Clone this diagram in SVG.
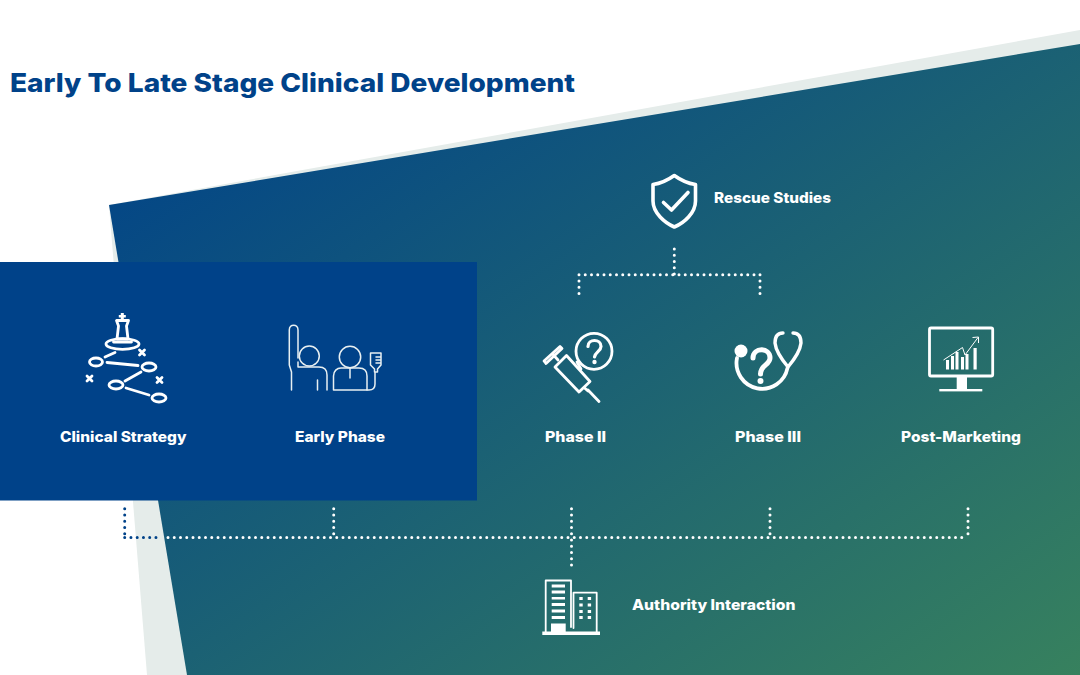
<svg xmlns="http://www.w3.org/2000/svg" width="1080" height="675" viewBox="0 0 1080 675">
<style>
.lbl{font-family:"Inter","Liberation Sans",sans-serif;font-weight:800;font-size:14.5px;fill:#fff}
.ttl{font-family:"Inter","Liberation Sans",sans-serif;font-weight:800;font-size:26px;fill:#004289}
.ic{fill:none;stroke:#fff;stroke-width:2.8;stroke-linecap:round;stroke-linejoin:round}
.thin{fill:none;stroke:#e8f0f2;stroke-width:1.5;stroke-linecap:round;stroke-linejoin:round}
.dot{fill:none;stroke:#fff;stroke-width:3;stroke-linecap:round;stroke-dasharray:0 6.25}
.dotb{stroke:#004289}
.w{fill:#fff;stroke:none}
</style>
<defs>
<linearGradient id="g" gradientUnits="userSpaceOnUse" x1="82" y1="119" x2="664" y2="962">
<stop offset="0" stop-color="#004289"/>
<stop offset="1" stop-color="#37815e"/>
</linearGradient>
</defs>
<polygon points="109,205 1080,30 1080,675 147,675" fill="#e5ecea"/>
<polygon points="109,205 1080,44 1080,675 187,675" fill="url(#g)"/>
<rect x="0" y="262" width="477" height="238.500" fill="#004289"/>
<text class="ttl" x="10" y="92" textLength="565" lengthAdjust="spacingAndGlyphs">Early To Late Stage Clinical Development</text>

<g id="connectors">
<path class="dot" d="M674.300 249V274.700M579 274.700H760M579 274.700V295M760 274.700V295"/>
<path class="dot dotb" d="M124.700 508.700V537.500M124.700 537.500H162"/>
<path class="dot" d="M168 537.500H968M333.700 508.700V537.500M571.500 508.700V565M770 508.700V537.500M968 508.700V537.500"/>
</g>

<g id="rescue-studies">
<path class="ic" style="stroke-width:3.600" d="M674.300 175.500C668 180 660 183.500 653 184.500V201C653 213 665 223 674.300 227C684 223 695.500 213 695.500 201V184.500C688.500 183.500 680.500 180 674.300 175.500Z"/>
<path class="ic" style="stroke-width:3.600" d="M663.500 202.500L671.500 210L688 192.500"/>
<text class="lbl" x="714" y="203" textLength="117" lengthAdjust="spacingAndGlyphs">Rescue Studies</text>
</g>

<g id="clinical-strategy">
<path class="w" d="M120.800 313h3v2h2v2.600h-2v2.400h-3v-2.400h-2v-2.600h2z"/>
<path class="ic" d="M116.500 320.500h12l-2 5.500 1.500 13h-11l1.500-13z"/>
<path class="ic" d="M113.500 342h18"/>
<ellipse class="ic" cx="122.500" cy="344" rx="16.500" ry="5.300"/>
<ellipse class="ic" cx="96" cy="362" rx="6.500" ry="4"/>
<ellipse class="ic" cx="149" cy="367" rx="7" ry="4"/>
<ellipse class="ic" cx="116" cy="385" rx="7" ry="4"/>
<ellipse class="ic" cx="159" cy="398" rx="7" ry="4"/>
<path class="ic" d="M105 357L115 352.500M107 362.500L138 365.500M141 372L125 381M126 388L149 395"/>
<path class="ic" d="M139.500 350L144.500 355M144.500 350L139.500 355M87 376L92 381M92 376L87 381M157 377.500L162 382.500M162 377.500L157 382.500"/>
<text class="lbl" x="60" y="442" textLength="126.500" lengthAdjust="spacingAndGlyphs">Clinical Strategy</text>
</g>

<g id="early-phase">
<path class="thin" d="M291.500 390V372L289.300 365V330C289.300 323.500 298 323.500 298 330V358M298 362V367H319C324 367 327 370 327 375V390M317.500 380V390"/>
<circle class="thin" cx="309.300" cy="356" r="10"/>
<circle class="thin" cx="350" cy="357" r="10.700"/>
<path class="thin" d="M333.500 390V376C333.500 371 337 368 341 368H359C364 368 367 371 367 376V390ZM350 368V378"/>
<path class="thin" d="M370.500 353H381V365L377.500 369V372H374.500V369L370.500 365ZM375 372V384Q375 390 369 390H367M376 357H381M376 360H381M376 363H381"/>
<text class="lbl" x="295" y="442" textLength="90" lengthAdjust="spacingAndGlyphs">Early Phase</text>
</g>

<g id="phase-ii">
<circle class="ic" cx="594" cy="351.300" r="18"/>
<path class="ic" d="M577 362L581 369"/>
<path class="ic" style="stroke-width:3.200" d="M588 346.500C588 338.500 601 338.500 601 346.500C601 351 595 352 594.500 357"/>
<circle class="w" cx="594.500" cy="362" r="2.200"/>
<path class="ic" d="M544 361L560 346.500L562 348.500L546 363.500ZM553 354.500L558 360"/>
<path class="ic" d="M555 367L566.500 355.500L590 381.500L579 392ZM584 387.500L588 391M588 390L599 401.500"/>
<text class="lbl" x="545" y="442" textLength="61" lengthAdjust="spacingAndGlyphs">Phase II</text>
</g>

<g id="phase-iii">
<circle class="w" cx="741" cy="351" r="6.500"/>
<path class="ic" style="stroke-width:3.800" d="M737 358A24.500 24.500 0 1 0 787.500 368"/>
<path class="ic" style="stroke-width:3.400" d="M783 333C777 333 775 337 775 343C776 352 783 361 788 367C793 361 800 352 801 343C801 337 799 333 793 333"/>
<path class="ic" style="stroke-width:5" d="M753 358C753 347 770 347 770 358C770 365 760.500 365 760.500 374"/>
<circle class="w" cx="760.500" cy="381" r="3"/>
<text class="lbl" x="735" y="442" textLength="66" lengthAdjust="spacingAndGlyphs">Phase III</text>
</g>

<g id="post-marketing">
<rect class="ic" x="929.500" y="328" width="63.200" height="48" rx="1.500"/>
<rect class="w" x="956.700" y="376" width="10.300" height="13"/>
<rect class="w" x="939.300" y="389" width="43" height="2.400"/>
<path class="w" d="M946 360h3v9.500h-3zM951 356h3v13.500h-3zM955.500 352h3v17.500h-3zM961 357h3v12.500h-3zM965.500 354h3v15.500h-3zM973.500 348h3.200v21.500h-3.200z"/>
<path fill="none" stroke="#fff" stroke-width="1" d="M943.500 360L962.500 347.500L965 355L978 337.500M972.500 337.500L978.500 337L978.500 343"/>
<text class="lbl" x="901" y="442" textLength="120" lengthAdjust="spacingAndGlyphs">Post-Marketing</text>
</g>

<g id="authority-interaction">
<path class="ic" style="stroke-width:1.800" d="M545.700 632V580.500H571V627M573.500 628V592.700H596.700V632"/>
<path class="w" d="M551.700 584.500H565v3h-13.300zM551.700 590.500H565v3h-13.300zM551.700 597H565v2.500h-13.300zM551.700 603H565v3h-13.300zM551.700 609.500H565v3h-13.300zM551.700 616H565v3h-13.300zM551 623.500h14.700V632H551zM542.300 631.500H600v3.500H542.300z"/>
<path class="w" d="M579.300 597h3.400v3h-3.400zM587.700 597h3.400v3h-3.400zM579.300 603.500h3.400v3h-3.400zM587.700 603.500h3.400v3h-3.400zM579.300 610h3.400v3h-3.400zM587.700 610h3.400v3h-3.400zM579.300 616h3.400v3h-3.400zM587.700 616h3.400v3h-3.400z"/>
<text class="lbl" x="632" y="610" textLength="163.500" lengthAdjust="spacingAndGlyphs">Authority Interaction</text>
</g>
</svg>
